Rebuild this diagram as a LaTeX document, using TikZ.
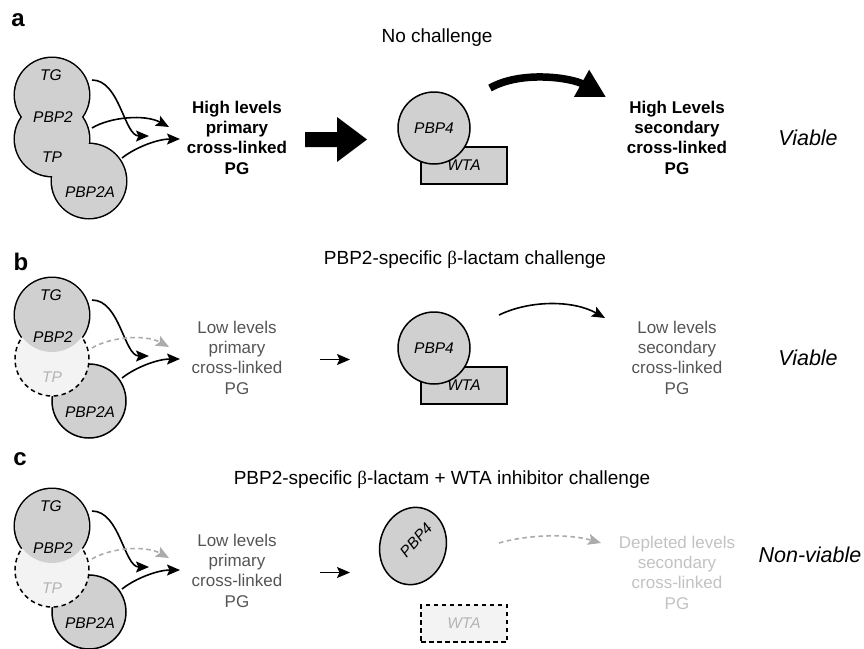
\documentclass[tikz,border=0pt]{standalone}
\usepackage{fontspec}
\setmainfont{Liberation Sans}
\newfontfamily\serifgreek{Liberation Serif}
\usetikzlibrary{arrows.meta,shapes.geometric}

\definecolor{cellgray}{HTML}{D0D0D0}
\definecolor{tpfill}{HTML}{F3F3F3}
\definecolor{tptext}{HTML}{B4B4B4}
\definecolor{dimtext}{HTML}{555555}
\definecolor{faint}{HTML}{C2C2C2}
\definecolor{faintarrow}{HTML}{ABABAB}

\tikzset{
  enz/.style={circle, inner sep=0pt, minimum size=74pt},
  enzlabel/.style={inner sep=0pt, font=\fontsize{15.5}{18}\selectfont\itshape},
  body/.style={align=center, inner sep=0pt, font=\fontsize{17}{20.3}\selectfont},
  bodybold/.style={align=center, inner sep=0pt, font=\fontsize{17}{20.3}\selectfont\bfseries},
  heading/.style={inner sep=0pt, font=\fontsize{19}{22}\selectfont},
  outcome/.style={inner sep=0pt, font=\fontsize{21.5}{24}\selectfont\itshape},
  letter/.style={inner sep=0pt, font=\fontsize{24}{24}\selectfont\bfseries},
  outline/.style={line width=1.5pt},
  flow/.style={line width=1.6pt, -{Stealth[length=13pt,width=11pt,inset=2.5pt]}},
  blocked/.style={flow, faintarrow, dash pattern=on 4.5pt off 3.5pt},
  wtabox/.style={draw, outline, fill=cellgray, minimum width=86pt, minimum height=37pt,
    inner sep=0pt, font=\fontsize{15.5}{18}\selectfont\itshape},
  pbpfour/.style={enz, draw, outline, fill=cellgray, minimum size=72pt,
    font=\fontsize{15.5}{18}\selectfont\itshape},
}

% labels of the PBP2 / PBP2A cluster; #1 = colour of the TP label
\newcommand\clusterlabels[1]{%
  \node[enzlabel] (tgl) at (51,75) {TG};
  \node[enzlabel] (pbp2l) at (53,117) {PBP2};
  \node[enzlabel, text=#1] (tpl) at (52,157) {TP};
  \node[enzlabel] (pbpal) at (90,192) {PBP2A};
}

% the three feeding arrows; #1 = style of the PBP2 transpeptidase arrow
\newcommand\feedarrows[1]{%
  \coordinate (tgout) at (92,80);
  \coordinate (tgin) at (149,136);
  \coordinate (tpout) at (92,128);
  \coordinate (tpin) at (169,127);
  \coordinate (paout) at (122,158);
  \coordinate (pain) at (180,139);
  \draw[flow] (tgout) .. controls (120,80) and (124,136) .. (tgin);
  \draw[#1] (tpout) .. controls (110,117) and (145,114) .. (tpin);
  \draw[flow] (paout) .. controls (136,147) and (158,139) .. (pain);
}

% cluster with the PBP2 transpeptidase domain knocked out
\newcommand\impairedcluster{%
  \node[enz, draw, outline, fill=cellgray] (pbpa) at (89,181) {};
  \node[enz] (tg) at (52,95) {};
  \node[enz] (tp) at (52,139) {};
  \draw[line width=3pt] (tg.center) circle (37pt);
  \fill[tpfill] (tp.center) circle (37pt);
  \draw[outline, dash pattern=on 4.5pt off 3.5pt] (tp.center) circle (37pt);
  \fill[cellgray] (tg.center) circle (37pt);
  \clusterlabels{tptext}
  \feedarrows{blocked}
}

\begin{document}
\begin{tikzpicture}[x=1pt, y=-1pt]
\useasboundingbox (0,0) rectangle (864,648);

% panel letters and headings
\node[letter] (la) at (18,20) {a};
\node[letter] (lb) at (21,262) {b};
\node[letter] (lc) at (20,459) {c};
\node[heading] (ta) at (437,38) {No challenge};
\node[heading] (tb) at (465,260) {PBP2-specific {\serifgreek β}-lactam challenge};
\node[heading] (tc) at (442,480) {PBP2-specific {\serifgreek β}-lactam + WTA inhibitor challenge};

% ---------------- a: no challenge ----------------
\begin{scope}[name prefix=a-]
  \node[enz] (tg) at (52,95) {};
  \node[enz] (tp) at (52,139) {};
  \node[enz] (pbpa) at (89,181) {};
  \draw[line width=3pt] (tg.center) circle (37pt) (tp.center) circle (37pt) (pbpa.center) circle (37pt);
  \fill[cellgray] (tg.center) circle (37pt) (tp.center) circle (37pt) (pbpa.center) circle (37pt);
  \clusterlabels{black}
  \feedarrows{flow}

  \node[bodybold] (prim) at (237,137.5) {High levels\\primary\\cross-linked\\PG};
  \fill (305,132) -- (337,132) -- (337,117) -- (367,139.5) -- (337,162) -- (337,147) -- (305,147) -- cycle;

  \node[wtabox] (wta) at (464,165.5) {WTA};
  \node[pbpfour] (pbp4) at (434,128) {PBP4};
  \coordinate (xs) at (490,88);
  \coordinate (xe) at (606,97);
  \draw[line width=7.5pt, -{Triangle[length=28pt,width=29pt]}] (xs) .. controls (522,70) and (572,78) .. (xe);

  \node[bodybold] (sec) at (677,137.5) {High Levels\\secondary\\cross-linked\\PG};
  \node[outcome] (fate) at (808,138) {Viable};
\end{scope}

% ---------------- b: PBP2-specific beta-lactam ----------------
\begin{scope}[shift={(0,220)}, name prefix=b-]
  \impairedcluster
  \node[body, text=dimtext] (prim) at (237,137.5) {Low levels\\primary\\cross-linked\\PG};
  \coordinate (ms) at (320,139.5);
  \coordinate (me) at (350,139.5);
  \draw[flow] (ms) -- (me);

  \node[wtabox] (wta) at (464,165.5) {WTA};
  \node[pbpfour] (pbp4) at (434,128) {PBP4};
  \coordinate (xs) at (499,95);
  \coordinate (xe) at (605,98);
  \draw[flow] (xs) .. controls (530,80) and (573,80) .. (xe);

  \node[body, text=dimtext] (sec) at (677,137.5) {Low levels\\secondary\\cross-linked\\PG};
  \node[outcome] (fate) at (808,138) {Viable};
\end{scope}

% ---------------- c: beta-lactam + WTA inhibitor ----------------
\begin{scope}[shift={(0,433)}, name prefix=c-]
  \begin{scope}[shift={(0,-2)}]
    \impairedcluster
  \end{scope}
  \node[body, text=dimtext] (prim) at (237,137.5) {Low levels\\primary\\cross-linked\\PG};
  \coordinate (ms) at (320,139.5);
  \coordinate (me) at (350,139.5);
  \draw[flow] (ms) -- (me);

  \node[draw, outline, fill=cellgray, ellipse, inner sep=0pt, minimum width=66pt,
        minimum height=78pt, rotate=-15] (pbp4) at (413,113) {};
  \node[enzlabel, rotate=48] (pbp4l) at (416,107) {PBP4};
  \node[wtabox, fill=tpfill, text=tptext, dash pattern=on 4.5pt off 3.5pt] (wta) at (464,190.5) {WTA};

  \coordinate (xs) at (499,110);
  \coordinate (xe) at (601,110);
  \draw[blocked] (xs) .. controls (530,101) and (570,101) .. (xe);

  \node[body, text=faint] (sec) at (677,139.5) {Depleted levels\\secondary\\cross-linked\\PG};
  \node[outcome] (fate) at (810,122) {Non-viable};
\end{scope}
\end{tikzpicture}
\end{document}
